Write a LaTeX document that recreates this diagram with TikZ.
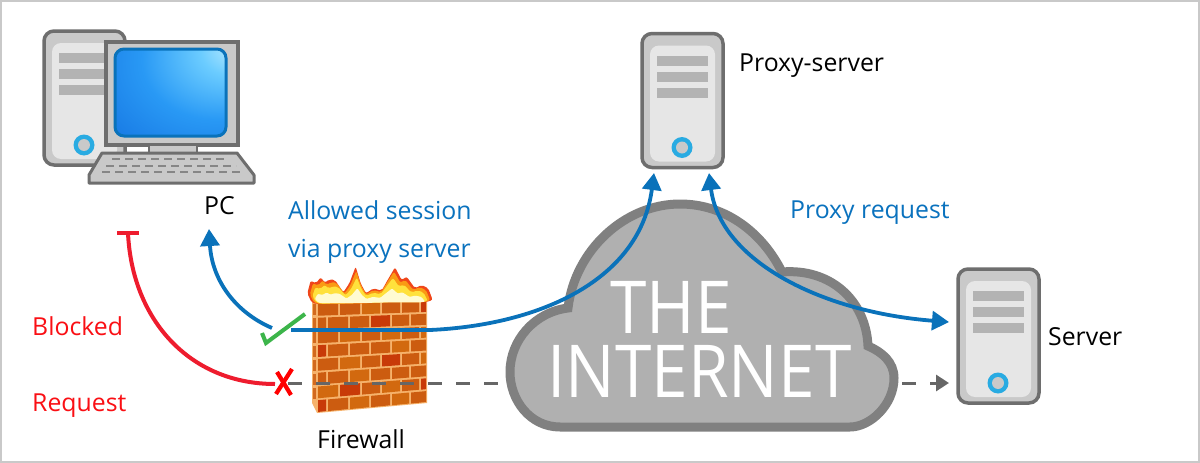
\documentclass[tikz,border=0pt]{standalone}
\usepackage{fontspec}
\setmainfont{Open Sans}
\newfontfamily\bigfont[FakeStretch=0.9]{Open Sans}
\usetikzlibrary{arrows.meta}
\definecolor{lnblue}{HTML}{0A72BA}
\definecolor{lnred}{HTML}{EE1C2E}
\definecolor{lngreen}{HTML}{3CB54A}
\definecolor{txblue}{HTML}{0A72BE}
\definecolor{txred}{HTML}{FA0F14}
\definecolor{dashgray}{HTML}{666666}
\definecolor{casegray}{HTML}{6E6E6E}
\definecolor{casefill}{HTML}{C9C9C9}
\definecolor{panelfill}{HTML}{E6E6E6}
\definecolor{barfill}{HTML}{B3B3B3}
\definecolor{ringblue}{HTML}{29ABE2}
\definecolor{cloudedge}{HTML}{808080}
\definecolor{cloudfill}{HTML}{B0B0B0}
\definecolor{mortar}{HTML}{F6B26B}
\definecolor{brickA}{HTML}{CC5C10}
\definecolor{brickB}{HTML}{D2690F}
\definecolor{brickR}{HTML}{C83A08}
\definecolor{flameA}{HTML}{F0461A}
\definecolor{flameB}{HTML}{FA9A14}
\definecolor{flameC}{HTML}{FFE13C}
\definecolor{flameD}{HTML}{FFFBD2}
\pgfdeclareradialshading{screenglow}{\pgfpoint{32bp}{28bp}}{%
  rgb(0bp)=(.78,.94,1);rgb(14bp)=(.42,.80,1);rgb(34bp)=(.16,.60,.96);rgb(60bp)=(.08,.45,.88);rgb(100bp)=(.05,.40,.82)}
\tikzset{
  x=1pt,y=-1pt,
  lab/.style={anchor=base west,inner sep=0pt,font=\fontsize{24.8}{29}\selectfont},
  bluelab/.style={lab,text=txblue},
  redlab/.style={lab,text=txred},
  blacklab/.style={lab,text=black},
  bigtext/.style={anchor=base,inner sep=0pt,text=white,font=\bigfont\fontsize{73}{73}\selectfont},
  bluetip/.style={},
  bluearrow/.style={draw=lnblue,line width=3.8pt,-{Triangle[width=19pt,length=17pt]}},
  grayarrow/.style={draw=dashgray,line width=3pt,dash pattern=on 14pt off 14pt},
  tower/.pic={
    \draw[casegray,line width=3.5pt,fill=casefill,rounded corners=10pt] (0,0) rectangle (81,134);
    \fill[panelfill,rounded corners=9pt] (8,12) rectangle (73,128);
    \fill[barfill] (15,22) rectangle (66,32);
    \fill[barfill] (15,38) rectangle (66,48);
    \fill[barfill] (15,54) rectangle (66,64);
    \fill[ringblue] (40,114) circle (10.5);
    \fill[casefill] (40,114) circle (6);
  }
}
\newcommand{\brickrow}[2]{% row index, seam list
  \foreach \sa/\sb/\col in {#2}{
    \pgfmathsetmacro{\ua}{(\sa-317)/110}
    \pgfmathsetmacro{\ub}{(\sb-317)/110}
    \pgfmathsetmacro{\va}{#1/8}
    \pgfmathsetmacro{\vb}{(#1+1)/8}
    \pgfmathsetmacro{\yaa}{(1-\ua)*(303+110*\va)+\ua*(300+103*\va)+1}
    \pgfmathsetmacro{\yab}{(1-\ub)*(303+110*\va)+\ub*(300+103*\va)+1}
    \pgfmathsetmacro{\yba}{(1-\ua)*(303+110*\vb)+\ua*(300+103*\vb)-1}
    \pgfmathsetmacro{\ybb}{(1-\ub)*(303+110*\vb)+\ub*(300+103*\vb)-1}
    \fill[\col] (\sa+1,\yaa) -- (\sb-1,\yab) -- (\sb-1,\ybb) -- (\sa+1,\yba) -- cycle;
  }
}
\newcommand{\flamepath}{(65,128) -- (52,100) -- (62,62) -- (78,70) -- (92,52) -- (105,68) -- (118,58) -- (135,60) -- (160,97) -- (178,70) -- (197,20) -- (212,70) -- (228,100) -- (250,85) -- (275,92) -- (290,65) -- (315,22) -- (335,60) -- (350,50) -- (375,85) -- (395,75) -- (415,85) -- (428,120) -- (410,126) -- (300,126) -- (220,130) -- (80,132) -- cycle}
\begin{document}
\begin{tikzpicture}
\useasboundingbox (0,0) rectangle (1200,463);
\fill[white] (0,0) rectangle (1200,463);
\draw[casefill,line width=2pt] (1,1) rectangle (1199,462);

% desktop PC
\pic at (44,31) {tower};
\draw[casegray,line width=3.6pt,fill=casefill] (106,42) rectangle (238,145);
\draw[casegray,line width=2pt,fill=casefill] (149,145) rectangle (197,153);
\draw[lnblue,line width=3pt,rounded corners=9pt,shading=screenglow] (115,49) rectangle (226,136);
\draw[casegray,line width=3pt,fill=casefill,line join=round] (102,153) -- (237,153) -- (254,175) -- (254,183) -- (89,183) -- (89,175) -- cycle;
\foreach \yy/\xa/\xb in {159/112/228,166/106/236,172/102/240}
  \draw[barfill!75!black,line width=1.3pt,dash pattern=on 8pt off 5pt] (\xa,\yy) -- (\xb,\yy);
\node[inner sep=0pt,minimum width=211pt,minimum height=152pt] (pc) at (149.5,107) {};

% proxy and target servers
\pic at (642,33.5) {tower};
\node[inner sep=0pt,minimum width=81pt,minimum height=134pt] (proxy) at (682.5,100.5) {};
\pic at (958,269) {tower};
\node[inner sep=0pt,minimum width=81pt,minimum height=134pt] (server) at (998.5,336) {};

% cloud
\draw[cloudedge,line width=9pt,fill=cloudfill,miter limit=10]
  (568,308) .. controls (575,250) and (625,204) .. (680,204)
  .. controls (725,204) and (762,232) .. (782,272)
  .. controls (830,268) and (866,300) .. (868,346)
  .. controls (882,352) and (894,362) .. (894,378)
  .. controls (894,405) and (870,427) .. (850,427)
  -- (560,427)
  .. controls (530,427) and (510,400) .. (510,372)
  .. controls (510,340) and (535,312) .. (568,308) -- cycle;
\node[bigtext] (the) at (671,333) {THE};
\node[bigtext] (internet) at (699.5,397) {INTERNET};

% firewall
\fill[mortar] (312,300) -- (427,300) -- (427,403) -- (317,413) -- (312,403) -- cycle;
\foreach \ry in {303,317,331,345,359,373,387}
  \fill[brickA!85!mortar] (313,\ry+1) rectangle (316,\ry+12);
\brickrow{0}{317/339/brickA,339/361/brickA,361/381/brickB,381/401/brickA,401/420/brickA,420/427/brickR}
\brickrow{1}{317/327/brickA,327/349/brickA,349/370/brickA,370/391/brickR,391/410/brickA,410/427/brickA}
\brickrow{2}{317/339/brickA,339/361/brickB,361/381/brickA,381/401/brickB,401/420/brickA,420/427/brickB}
\brickrow{3}{317/327/brickR,327/349/brickA,349/370/brickA,370/391/brickA,391/410/brickB,410/427/brickA}
\brickrow{4}{317/339/brickA,339/361/brickB,361/381/brickA,381/401/brickR,401/420/brickA,420/427/brickB}
\brickrow{5}{317/327/brickA,327/349/brickA,349/370/brickB,370/391/brickA,391/410/brickA,410/427/brickA}
\brickrow{6}{317/339/brickB,339/361/brickR,361/381/brickA,381/401/brickB,401/420/brickA,420/427/brickR}
\brickrow{7}{317/327/brickR,327/349/brickA,349/370/brickB,370/391/brickA,391/410/brickB,410/427/brickA}
\begin{scope}[shift={(290,260)},x=.3333pt,y=-.3333pt]
  \fill[rounded corners=2pt,flameA] \flamepath;
  \begin{scope}[shift={(240,128)},xscale=.96,yscale=.88,shift={(-240,-128)}]
    \fill[rounded corners=2pt,flameB] \flamepath;
  \end{scope}
  \begin{scope}[shift={(240,128)},xscale=.92,yscale=.7,shift={(-240,-128)}]
    \fill[rounded corners=2pt,flameC] \flamepath;
  \end{scope}
  \begin{scope}[shift={(240,128)},xscale=.88,yscale=.4,shift={(-240,-128)}]
    \fill[rounded corners=1pt,flameD] \flamepath;
  \end{scope}
\end{scope}
\node[inner sep=0pt,minimum width=115pt,minimum height=113pt] (firewall) at (369.5,356.5) {};

% connector end points
\coordinate (fwblue) at (291,330);
\coordinate (fwbluemid) at (430,330);
\coordinate (proxyL) at (654,173);
\coordinate (proxyR) at (709,173);
\coordinate (serverBlue) at (949,322);
\coordinate (pcTip) at (209,229);
\coordinate (pcStart) at (272,328);
\coordinate (blockT) at (128,233);
\coordinate (blockX) at (275,384);
\coordinate (grayA) at (288,383);
\coordinate (grayB) at (498,383);
\coordinate (grayC) at (902,383);
\coordinate (grayD) at (949,383);

% gray dashed request line
\draw[grayarrow] (grayA) -- (grayB);
\draw[grayarrow,-{Triangle[width=16pt,length=13pt]}] (grayC) -- (grayD);

% blue connectors
\path[bluearrow] (fwblue) -- (fwbluemid) .. controls (540,325) and (640,280) .. (proxyL);
\path[bluearrow,{Triangle[width=19pt,length=17pt]}-{Triangle[width=19pt,length=17pt]}] (proxyR) .. controls (720,260) and (820,312) .. (serverBlue);
\path[bluearrow] (pcStart) .. controls (235,312) and (212,280) .. (pcTip);

% red connector and T bar
\draw[lnred,line width=4pt] (blockT) .. controls (132,320) and (190,384) .. (blockX);
\draw[lnred,line width=4pt] (117,233) -- (139,233);
% cross
\draw[red,line width=4.2pt] (277,372) -- (291,395);
\draw[red,line width=4.2pt] (292,369) -- (276,394);
% tick
\draw[lngreen,line width=4pt] (262,333) -- (266,343) -- (305,314);

% labels
\node[blacklab] (pclabel) at (204,214) {PC};
\node[bluelab] (allowed) at (288,219) {Allowed session};
\node[bluelab] (via) at (288,257) {via proxy server};
\node[bluelab] (preq) at (790,218) {Proxy request};
\node[blacklab] (pslabel) at (739,71) {Proxy-server};
\node[blacklab] (svlabel) at (1048,345) {Server};
\node[blacklab] (fwlabel) at (317,448) {Firewall};
\node[redlab] (blocked) at (32,335) {Blocked};
\node[redlab] (request) at (32,411) {Request};
\end{tikzpicture}
\end{document}
